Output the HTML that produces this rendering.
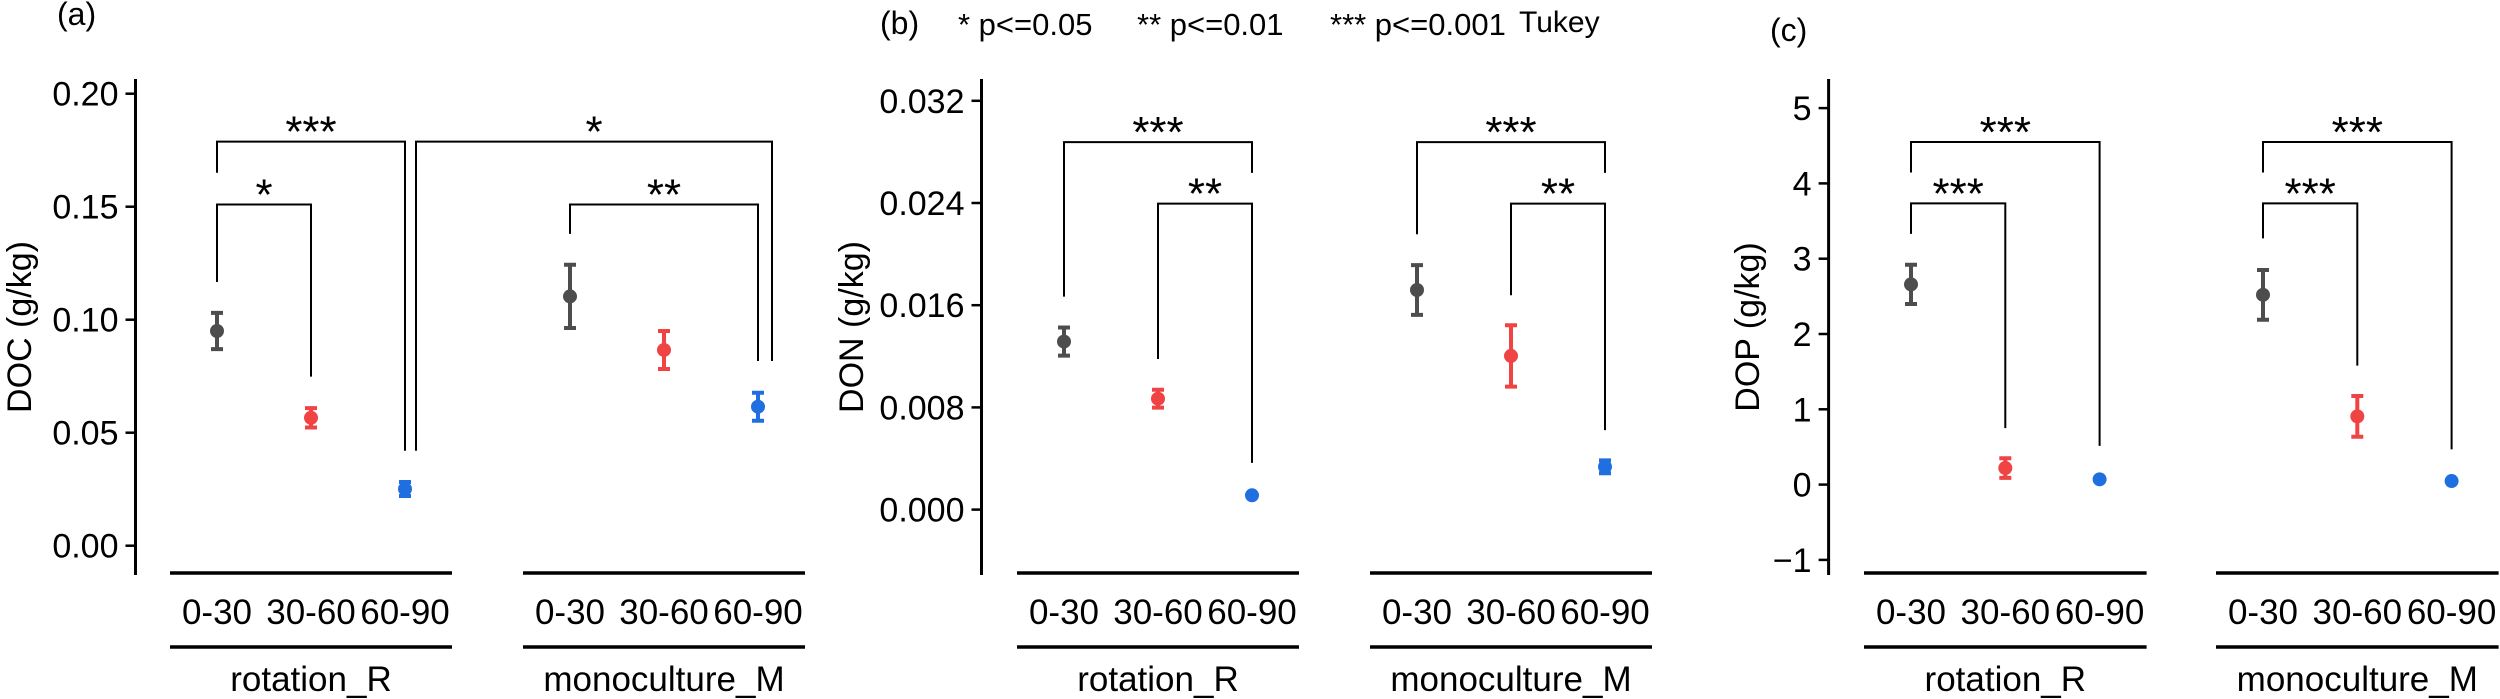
<!DOCTYPE html>
<html><head><meta charset="utf-8"><style>
html,body{margin:0;padding:0;background:#fff;}
svg{display:block;font-family:"Liberation Sans",Arial,sans-serif;}
</style></head><body>
<svg id="chart" width="2500" height="699" viewBox="0 0 2500 699" xmlns="http://www.w3.org/2000/svg">
  <text x="57" y="25" font-size="32">(a)</text>
  <text x="880" y="34" font-size="32">(b)</text>
  <text x="1770" y="41" font-size="32">(c)</text>
  <g font-size="31">
    <text x="958" y="35">* p&lt;=0.05</text>
    <text x="1137" y="35">** p&lt;=0.01</text>
    <text x="1330" y="35">*** p&lt;=0.001</text>
    <text x="1519" y="32" font-size="30">Tukey</text>
  </g>
</svg>
<script>
// ---- data ----
const depths = ["0-30", "30-60", "60-90"];
const groups = ["rotation_R", "monoculture_M"];
const docMeans = [0.095, 0.0566, 0.0251, 0.1103, 0.0866, 0.0615];
const docErrs  = [0.008, 0.0043, 0.0031, 0.014, 0.0084, 0.0062];
const donMeans = [0.01315, 0.00868, 0.00112, 0.01719, 0.01203, 0.00335];
const donErrs  = [0.0011, 0.0007, 0.0001, 0.00195, 0.0024, 0.0005];
const dopMeans = [2.659, 0.22, 0.07, 2.52, 0.906, 0.047];
const dopErrs  = [0.26, 0.13, 0.0, 0.33, 0.27, 0.0];
const docTicks = [0, 0.05, 0.10, 0.15, 0.20];
const docTickLabels = ["0.00", "0.05", "0.10", "0.15", "0.20"];
const donTicks = [0, 0.008, 0.016, 0.024, 0.032];
const donTickLabels = ["0.000", "0.008", "0.016", "0.024", "0.032"];
const dopTicks = [-1, 0, 1, 2, 3, 4, 5];
const dopTickLabels = ["\u22121", "0", "1", "2", "3", "4", "5"];
// brackets: [fromIndex, toIndex, barValue, leftLegEndValue, rightLegEndValue]
const docBrackets = [[0, 2, 0.1788, 0.165, 0.042], [0, 1, 0.151, 0.1167, 0.0748], [2, 5, 0.1788, 0.042, 0.0817], [3, 5, 0.151, 0.138, 0.0817]];
const docBracketLabels = ["***", "*", "*", "**"];
const donBrackets = [[0, 2, 0.02877, 0.01667, 0.02636], [1, 2, 0.02395, 0.01179, 0.00366], [3, 5, 0.02877, 0.02155, 0.02636], [4, 5, 0.02395, 0.01678, 0.00622]];
const donBracketLabels = ["***", "**", "***", "**"];
const dopBrackets = [[0, 2, 4.55, 4.145, 0.515], [0, 1, 3.735, 3.33, 0.75], [3, 5, 4.55, 4.145, 0.467], [3, 4, 3.735, 3.27, 1.58]];
const dopBracketLabels = ["***", "***", "***", "***"];

// ---- layout ----
const colors = ["#4d4d4d", "#f04343", "#1f6fe0"];
const panels = [
  {id:"doc", title:"DOC (g/kg)", means:docMeans, errs:docErrs, ticks:docTicks, tl:docTickLabels, br:docBrackets, bl:docBracketLabels,
   axisX:135.5, x0:217, step:94, gstart:570, zeroY:545.7, ppu:2260, titleX:19, nudge:[[0,0],[0,0],[11,14],[0,0]]},
  {id:"don", title:"DON (g/kg)", means:donMeans, errs:donErrs, ticks:donTicks, tl:donTickLabels, br:donBrackets, bl:donBracketLabels,
   axisX:981.5, x0:1064, step:94, gstart:1417, zeroY:509.6, ppu:12775, titleX:851, nudge:[[0,0],[0,0],[0,0],[0,0]]},
  {id:"dop", title:"DOP (g/kg)", means:dopMeans, errs:dopErrs, ticks:dopTicks, tl:dopTickLabels, br:dopBrackets, bl:dopBracketLabels,
   axisX:1828.6, x0:1911, step:94.3, gstart:2263, zeroY:484.6, ppu:75.3, titleX:1747, nudge:[[0,0],[0,0],[0,0],[0,0]]}
];
const NS = "http://www.w3.org/2000/svg";
const svg = document.getElementById("chart");
function mk(tag, attrs, parent){ const e=document.createElementNS(NS,tag); for(const k in attrs) e.setAttribute(k,attrs[k]); (parent||svg).appendChild(e); return e; }

panels.forEach(p => {
  const g = mk("g", {});
  
  
  const y = v => p.zeroY - v * p.ppu;
  const xAt = i => i < 3 ? p.x0 + i * p.step : p.gstart + (i - 3) * p.step;

  const ax = mk("line", {x1:p.axisX, x2:p.axisX, y1:79, y2:575, stroke:"#000", "stroke-width":3}, g);
  
  
  p.ticks.forEach((t, i) => {
    const tk = mk("line", {x1:p.axisX - 10, x2:p.axisX, y1:y(t), y2:y(t), stroke:"#000", "stroke-width":2.5}, g);
    
    
    const tl = mk("text", {x:p.axisX - 17, y:y(t) + 12, "font-size":34, "text-anchor":"end"}, g);
    tl.textContent = p.tl[i];
    
    
  });
  const ttl = mk("text", {x:p.titleX + 12, y:327, "font-size":34, "text-anchor":"middle", transform:`rotate(-90 ${p.titleX + 12} 327)`}, g);
  ttl.textContent = p.title;
  
  

  groups.forEach((gn, gi) => {
    const xa = xAt(gi * 3) - 47, xb = xAt(gi * 3 + 2) + 47;
    [573, 647].forEach(ly => {
      const l = mk("line", {x1:xa, x2:xb, y1:ly, y2:ly, stroke:"#000", "stroke-width":3.5}, g);
      
      
    });
    depths.forEach((d, di) => {
      const t = mk("text", {x:xAt(gi * 3 + di), y:624, "font-size":35, "text-anchor":"middle"}, g);
      t.textContent = d;
      
      
    });
    const gt = mk("text", {x:(xa + xb) / 2, y:691, "font-size":35, "text-anchor":"middle"}, g);
    gt.textContent = gn;
    
    
  });

  p.br.forEach((b, bi) => {
    const xl = xAt(b[0]) + p.nudge[bi][0], xr = xAt(b[1]) + p.nudge[bi][1];
    const path = mk("path", {d:`M${xl},${y(b[3])}V${y(b[2])}H${xr}V${y(b[4])}`, fill:"none", stroke:"#000", "stroke-width":2}, g);
    
    
    const st = mk("text", {x:(xl + xr) / 2, y:y(b[2]) + 5, "font-size":44, "text-anchor":"middle"}, g);
    st.textContent = p.bl[bi];
    
    
  });

  p.means.forEach((m, i) => {
    const c = colors[i % 3], x = xAt(i);
    const e = p.errs[i];
    if (e > 0) {
      const eb = mk("path", {d:`M${x},${y(m + e)}V${y(m - e)}M${x - 6},${y(m + e)}H${x + 6}M${x - 6},${y(m - e)}H${x + 6}`, stroke:c, "stroke-width":4, fill:"none"}, g);
      
      
    }
    const pt = mk("circle", {cx:x, cy:y(m), r:7, fill:c}, g);
    
    
  });
});
</script>
</body></html>
